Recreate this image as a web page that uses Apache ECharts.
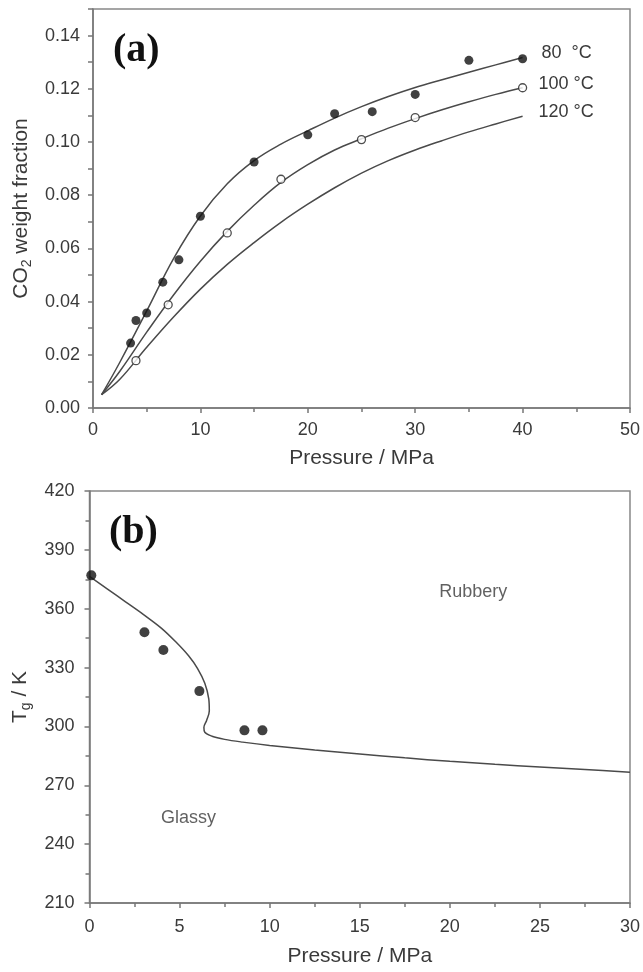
<!DOCTYPE html>
<html><head><meta charset="utf-8">
<script src="https://cdn.jsdelivr.net/npm/echarts@6/dist/echarts.min.js"></script>
<style>html,body{margin:0;padding:0;background:#fff}#c{width:643px;height:972px}</style>
</head><body><div id="c"></div>
<script>
// ---- Panel (a): CO2 weight fraction vs pressure ----
const aPressure80 = [3.5, 4, 5, 6.5, 8, 10, 15, 20, 22.5, 26, 30, 35, 40];
const aFrac80 = [0.0244, 0.0329, 0.0357, 0.0473, 0.0557, 0.0721, 0.0925, 0.1027, 0.1106, 0.1114, 0.1179, 0.1307, 0.1313];
const aPressure100 = [4, 7, 12.5, 17.5, 25, 30, 40];
const aFrac100 = [0.0178, 0.0388, 0.0658, 0.0860, 0.1009, 0.1092, 0.1204];
const fitPressure = [0.8, 2.5, 5, 7.5, 10, 12.5, 15, 17.5, 20, 22.5, 25, 27.5, 30, 32.5, 35, 37.5, 40];
const fit80 = [0.005, 0.0172, 0.0365, 0.0562, 0.0722, 0.0843, 0.0930, 0.0992, 0.1042, 0.1090, 0.1133, 0.1171, 0.1205, 0.1234, 0.1262, 0.1290, 0.1318];
const fit100 = [0.005, 0.0138, 0.0285, 0.0425, 0.0552, 0.0664, 0.0762, 0.0848, 0.0915, 0.0970, 0.1012, 0.1052, 0.1088, 0.1121, 0.1151, 0.1179, 0.1204];
const fit120 = [0.005, 0.0108, 0.0228, 0.0342, 0.0447, 0.0540, 0.0622, 0.0698, 0.0766, 0.0828, 0.0883, 0.0930, 0.0970, 0.1005, 0.1038, 0.1068, 0.1097];
const fitNames = ['80  °C', '100 °C', '120 °C'];
const aXTicks = [0, 50, 10];      // min, max, interval
const aYTicks = [0, 0.15, 0.01];

// ---- Panel (b): Tg vs pressure ----
const bPressure = [0.1, 3.05, 4.1, 6.1, 8.6, 9.6];
const bTg = [377, 348, 339, 318, 298, 298];
const bCurveP = [0, 1, 2, 3, 4, 4.8, 5.5, 6.0, 6.4, 6.62, 6.65, 6.5, 6.35, 6.4, 6.8, 7.5, 8.5, 10, 12.5, 15, 17.5, 20, 22.5, 25, 27.5, 30];
const bCurveT = [376.5, 370, 363.5, 357, 350, 343, 336, 329.5, 322, 314, 308, 303, 299.5, 297, 295, 293.4, 292, 290.3, 288, 286, 284, 282.2, 280.7, 279.3, 278, 276.7];
const bRegionNames = ['Rubbery', 'Glassy'];
const bRegionP = [21.3, 5.5];
const bRegionT = [368.7, 253.3];
const bXTicks = [0, 30, 5];
const bYTicks = [210, 420, 30];

const FONT = '"Liberation Sans", Arial, Helvetica, sans-serif';
const TXT = '#3a3a3a';
const AX = '#777';
const CURVE = '#4a4a4a';

function pairs(xs, ys) { return xs.map((x, i) => [x, ys[i]]); }

function axisCommon() {
  return {
    axisLine: { show: true, onZero: false, lineStyle: { color: AX, width: 1.5 } },
    axisTick: { show: true, inside: false, length: 5, lineStyle: { color: AX, width: 1.5 } },
    splitLine: { show: false },
    axisLabel: { color: TXT, fontFamily: FONT, fontSize: 18 },
    nameTextStyle: { color: TXT, fontFamily: FONT, fontSize: 21 }
  };
}

const chart = echarts.init(document.getElementById('c'), null, { renderer: 'canvas' });

const xa = axisCommon();
Object.assign(xa, {
  type: 'value', gridIndex: 0, min: aXTicks[0], max: aXTicks[1], interval: aXTicks[2],
  name: 'Pressure / MPa', nameLocation: 'middle', nameGap: 40,
  minorTick: { show: true, splitNumber: 2, length: 4, lineStyle: { color: AX, width: 1.5 } }
});
xa.axisLabel = Object.assign({}, xa.axisLabel, { margin: 13 });

const ya = axisCommon();
Object.assign(ya, {
  type: 'value', gridIndex: 0, min: aYTicks[0], max: aYTicks[1], interval: aYTicks[2],
  name: '{a|CO}{s|2}{a| weight fraction}', nameLocation: 'middle', nameGap: 57, nameRotate: 90
});
ya.axisLabel = Object.assign({}, ya.axisLabel, {
  margin: 13,
  formatter: v => { const k = Math.round(v * 100); return (k % 2 === 0 && k < 15) ? v.toFixed(2) : ''; }
});
ya.nameTextStyle = {
  color: TXT, fontFamily: FONT,
  rich: {
    a: { fontSize: 21, fontFamily: FONT, color: TXT, lineHeight: 26, verticalAlign: 'middle' },
    s: { fontSize: 14, fontFamily: FONT, color: TXT, lineHeight: 14, verticalAlign: 'bottom' }
  }
};

const xb = axisCommon();
Object.assign(xb, {
  type: 'value', gridIndex: 1, min: bXTicks[0], max: bXTicks[1], interval: bXTicks[2],
  name: 'Pressure / MPa', nameLocation: 'middle', nameGap: 43,
  minorTick: { show: true, splitNumber: 2, length: 4, lineStyle: { color: AX, width: 1.5 } }
});
xb.axisLabel = Object.assign({}, xb.axisLabel, { margin: 15 });

const yb = axisCommon();
Object.assign(yb, {
  type: 'value', gridIndex: 1, min: bYTicks[0], max: bYTicks[1], interval: bYTicks[2],
  name: '{a|T}{s|g}{a| / K}', nameLocation: 'middle', nameGap: 53, nameRotate: 90,
  minorTick: { show: true, splitNumber: 2, length: 4, lineStyle: { color: AX, width: 1.5 } }
});
yb.axisLabel = Object.assign({}, yb.axisLabel, { margin: 15 });
yb.nameTextStyle = ya.nameTextStyle;

function fitSeries(ys, idx) {
  return {
    type: 'line', xAxisIndex: 0, yAxisIndex: 0,
    data: pairs(fitPressure, ys), smooth: 0.4, showSymbol: false, symbol: 'none',
    lineStyle: { color: CURVE, width: 1.5 }, z: 2,
    endLabel: { show: true, formatter: fitNames[idx], distance: idx === 0 ? 19 : 16, offset: [0, -4],
      color: TXT, fontFamily: FONT, fontSize: 18 }
  };
}

const option = {
  animation: false,
  backgroundColor: '#fff',
  title: [
    { text: '(a)', left: 113, top: 31, padding: 0,
      textStyle: { fontFamily: '"Liberation Serif", "Times New Roman", serif', fontWeight: 'bold', fontSize: 40, color: '#111' } },
    { text: '(b)', left: 109, top: 513, padding: 0,
      textStyle: { fontFamily: '"Liberation Serif", "Times New Roman", serif', fontWeight: 'bold', fontSize: 40, color: '#111' } }
  ],
  grid: [
    { left: 93, top: 9, width: 538.5, height: 399, show: true, borderColor: '#888', borderWidth: 1.5, backgroundColor: 'transparent' },
    { left: 89.5, top: 491, width: 542, height: 412, show: true, borderColor: '#888', borderWidth: 1.5, backgroundColor: 'transparent' }
  ],
  xAxis: [xa, xb],
  yAxis: [ya, yb],
  series: [
    fitSeries(fit80, 0),
    fitSeries(fit100, 1),
    fitSeries(fit120, 2),
    { type: 'scatter', xAxisIndex: 0, yAxisIndex: 0, data: pairs(aPressure80, aFrac80),
      symbol: 'circle', symbolSize: 9, itemStyle: { color: '#111' }, z: 5 },
    { type: 'scatter', xAxisIndex: 0, yAxisIndex: 0, data: pairs(aPressure100, aFrac100),
      symbol: 'circle', symbolSize: 8, itemStyle: { color: '#fff', borderColor: '#222', borderWidth: 1.3 }, z: 5 },
    { type: 'line', xAxisIndex: 1, yAxisIndex: 1, data: pairs(bCurveP, bCurveT),
      smooth: 0.35, showSymbol: false, symbol: 'none', lineStyle: { color: CURVE, width: 1.5 }, z: 2 },
    { type: 'scatter', xAxisIndex: 1, yAxisIndex: 1, data: pairs(bPressure, bTg),
      symbol: 'circle', symbolSize: 10, itemStyle: { color: '#111' }, z: 5 },
    { type: 'scatter', xAxisIndex: 1, yAxisIndex: 1, data: pairs(bRegionP, bRegionT),
      symbolSize: 0, silent: true,
      label: { show: true, position: 'inside', formatter: p => bRegionNames[p.dataIndex],
        color: TXT, fontFamily: FONT, fontSize: 18 } }
  ]
};
chart.setOption(option);
</script>
</body></html>
